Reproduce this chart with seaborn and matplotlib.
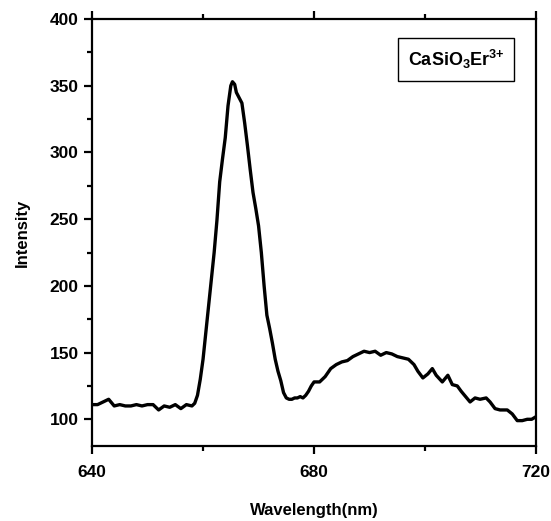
import numpy as np
import pandas as pd
import seaborn as sns
import matplotlib.pyplot as plt
from matplotlib.ticker import MultipleLocator

# data
wavelength = [640.0, 641.0, 642.0, 643.0, 644.0, 645.0, 646.0, 647.0, 648.0, 649.0,
              650.0, 651.0, 652.0, 653.0, 654.0, 655.0, 656.0, 657.0, 658.0, 658.5,
              659.0, 659.5, 660.0, 660.5, 661.0, 661.5, 662.0, 662.5, 663.0, 663.5,
              664.0, 664.5, 665.0, 665.3, 665.7, 666.0, 666.5, 667.0, 667.5, 668.0,
              668.5, 669.0, 669.5, 670.0, 670.5, 671.0, 671.5, 672.0, 672.5, 673.0,
              673.5, 674.0, 674.5, 675.0, 675.5, 676.0, 676.5, 677.0, 677.5, 678.0,
              678.5, 679.0, 679.5, 680.0, 681.0, 681.5, 682.0, 682.5, 683.0, 684.0,
              685.0, 686.0, 687.0, 688.0, 689.0, 690.0, 691.0, 692.0, 693.0, 694.0,
              695.0, 696.0, 697.0, 698.0, 698.7, 699.6, 700.5, 701.3, 702.0, 703.1,
              704.1, 704.9, 705.8, 706.5, 707.3, 708.1, 709.0, 709.9, 711.0, 711.7,
              712.6, 713.5, 714.8, 715.7, 716.6, 717.5, 718.4, 719.2, 720.0]
intensity = [111, 111, 113, 115, 110, 111, 110, 110, 111, 110,
             111, 111, 107, 110, 109, 111, 108, 111, 110, 112,
             118, 130, 145, 165, 185, 205, 225, 249, 278, 295,
             311, 335, 350, 353, 351, 345, 341, 337, 322, 305,
             287, 270, 258, 245, 225, 200, 178, 168, 157, 145,
             136, 129, 120, 116, 115, 115, 116, 116, 117, 116,
             118, 121, 125, 128, 128, 130, 132, 135, 138, 141,
             143, 144, 147, 149, 151, 150, 151, 148, 150, 149,
             147, 146, 145, 141, 136, 131, 134, 138, 133, 128,
             133, 126, 125, 121, 117, 113, 116, 115, 116, 113,
             108, 107, 107, 104, 99, 99, 100, 100, 102]

df = pd.DataFrame({"Wavelength": wavelength, "Intensity": intensity})

sns.set_style("ticks")
plt.rcParams['font.family'] = ['Liberation Sans', 'DejaVu Sans']
plt.rcParams['text.color'] = 'black'
plt.rcParams['axes.labelcolor'] = 'black'
plt.rcParams['xtick.color'] = 'black'
plt.rcParams['ytick.color'] = 'black'
plt.rcParams['axes.edgecolor'] = 'black'
plt.rcParams['mathtext.fontset'] = 'custom'
plt.rcParams['mathtext.rm'] = 'Liberation Sans:bold'
plt.rcParams['mathtext.bf'] = 'Liberation Sans:bold'

fig = plt.figure(figsize=(5.51, 5.21), dpi=100)
ax = fig.add_axes([0.167, 0.144, 0.806, 0.8195])

sns.lineplot(data=df, x="Wavelength", y="Intensity", color="black", linewidth=2.4, ax=ax)

ax.set_xlim(640, 720)
ax.set_ylim(80, 400)
ax.xaxis.set_major_locator(MultipleLocator(40))
ax.xaxis.set_minor_locator(MultipleLocator(20))
ax.yaxis.set_major_locator(MultipleLocator(50))
ax.yaxis.set_minor_locator(MultipleLocator(25))

for s in ax.spines.values():
    s.set_linewidth(1.6)
    s.set_visible(True)
    s.set_color('black')
ax.tick_params(which='both', direction='out', width=1.6, top=True, right=False,
               labeltop=False, labelright=False, colors='black')
ax.tick_params(which='major', length=6, labelsize=12.5)
ax.tick_params(which='minor', length=3.5)
ax.tick_params(axis='x', which='major', pad=8)
for lab in ax.get_xticklabels() + ax.get_yticklabels():
    lab.set_fontweight('bold')

ax.set_xlabel("Wavelength(nm)", fontsize=12, fontweight='bold', labelpad=16)
ax.set_ylabel("Intensity", fontsize=12, fontweight='bold', labelpad=14)

ax.text(0.82, 0.905, r"CaSiO$_3$Er$^{3{+}}$", transform=ax.transAxes, fontsize=13,
        fontweight='bold', ha='center', va='center',
        bbox=dict(boxstyle='square,pad=0.55', facecolor='white', edgecolor='black', linewidth=1.0))

fig.savefig("out.png", dpi=100)
